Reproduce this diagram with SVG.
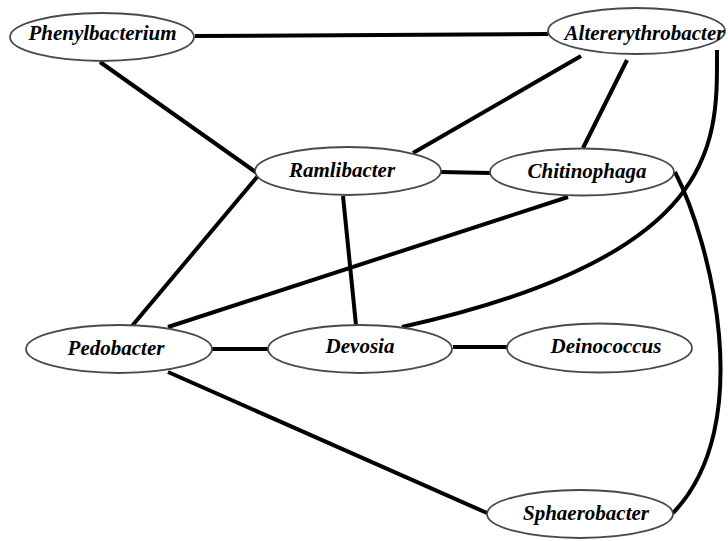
<svg xmlns="http://www.w3.org/2000/svg" width="728" height="541" viewBox="0 0 728 541">
<style>
.n ellipse{fill:#fff;stroke:#4a4a4a;stroke-width:1.8}
.n text{font-family:"Liberation Serif","Times New Roman",serif;font-weight:bold;font-style:italic;font-size:21px;fill:#000;text-anchor:middle}
#edges path,#edges line{stroke:#000;stroke-width:4;fill:none;stroke-linecap:butt}
</style>
<rect width="728" height="541" fill="#fff"/>
<g id="edges">
<line x1="195" y1="36" x2="548" y2="34"/>
<line x1="100" y1="62" x2="257" y2="173"/>
<line x1="581" y1="56" x2="413" y2="153"/>
<line x1="627" y1="60" x2="583" y2="148"/>
<path d="M717,50 C717,140 725,255 402,327"/>
<line x1="441" y1="172" x2="490" y2="173"/>
<line x1="343" y1="196" x2="356" y2="325"/>
<line x1="257" y1="177" x2="132" y2="326"/>
<line x1="568" y1="197" x2="168" y2="327"/>
<path d="M675,172 C710,240 758,425 673,513"/>
<line x1="211" y1="349" x2="268" y2="349"/>
<line x1="453" y1="347" x2="507" y2="347"/>
<line x1="168" y1="372" x2="487" y2="513"/>
</g>
<g id="phenylbacterium" class="n"><ellipse cx="102" cy="37" rx="92" ry="24"/><text x="102.5" y="39.5">Phenylbacterium</text></g>
<g id="altererythrobacter" class="n"><ellipse cx="636.5" cy="31" rx="88.5" ry="23"/><text x="644.5" y="40">Altererythrobacter</text></g>
<g id="ramlibacter" class="n"><ellipse cx="348" cy="171" rx="93" ry="24"/><text x="342" y="177">Ramlibacter</text></g>
<g id="chitinophaga" class="n"><ellipse cx="582" cy="172" rx="92" ry="23.5"/><text x="587" y="178">Chitinophaga</text></g>
<g id="pedobacter" class="n"><ellipse cx="119" cy="349" rx="93" ry="24"/><text x="116" y="355">Pedobacter</text></g>
<g id="devosia" class="n"><ellipse cx="360" cy="349" rx="92" ry="24"/><text x="360" y="353">Devosia</text></g>
<g id="deinococcus" class="n"><ellipse cx="599.5" cy="348" rx="92.5" ry="24.5"/><text x="606" y="353">Deinococcus</text></g>
<g id="sphaerobacter" class="n"><ellipse cx="580" cy="514" rx="93" ry="24"/><text x="586" y="520">Sphaerobacter</text></g>
</svg>
